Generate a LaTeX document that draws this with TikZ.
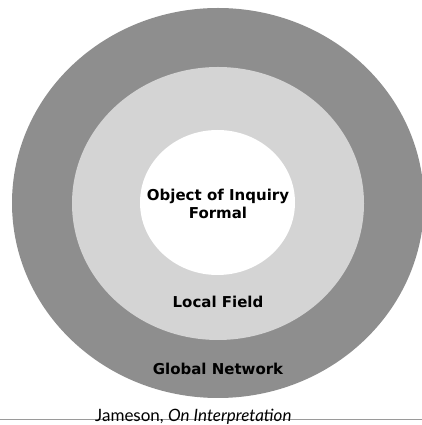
\documentclass[tikz,border=0pt]{standalone}
\usepackage{fontspec}
\setmainfont{Lato}
\newfontfamily\labelfont{DejaVu Sans}
\usepackage{xcolor}
\usetikzlibrary{shapes.geometric}
\definecolor{globalgray}{HTML}{8E8E8E}
\definecolor{localgray}{HTML}{D4D4D4}
\definecolor{rulegray}{HTML}{9A9A9A}

\begin{document}
\begin{tikzpicture}[x=1pt,y=1pt,
  ring/.style={ellipse,inner sep=0pt,draw=none},
  ringlabel/.style={font=\labelfont\fontsize{15}{18}\selectfont\bfseries,align=center,text=black}]
  \useasboundingbox (0,0) rectangle (422,425);
  \clip (0,0) rectangle (422,425);
  % nested fields
  \node[ring,fill=globalgray,minimum width=412,minimum height=390] (global) at (218,222) {};
  \node[ring,fill=localgray,minimum width=292,minimum height=273] (local) at (218,221.5) {};
  \node[ring,fill=white,minimum width=155,minimum height=145] (object) at (217.5,222.5) {};
  % labels
  \node[ringlabel] (objectlabel) at (218,221) {Object of Inquiry\\Formal};
  \node[ringlabel] (locallabel) at (218,123.5) {Local Field};
  \node[ringlabel] (globallabel) at (218,56.5) {Global Network};
  % source line
  \coordinate (ruleleft) at (0,6);
  \coordinate (ruleright) at (422,6);
  \draw[rulegray,line width=0.8pt] (ruleleft) -- (ruleright);
  \node[anchor=base west,inner sep=0pt,font=\fontsize{17}{18}\selectfont] (source) at (95,3.5) {Jameson, \textit{On Interpretation}};
\end{tikzpicture}
\end{document}
